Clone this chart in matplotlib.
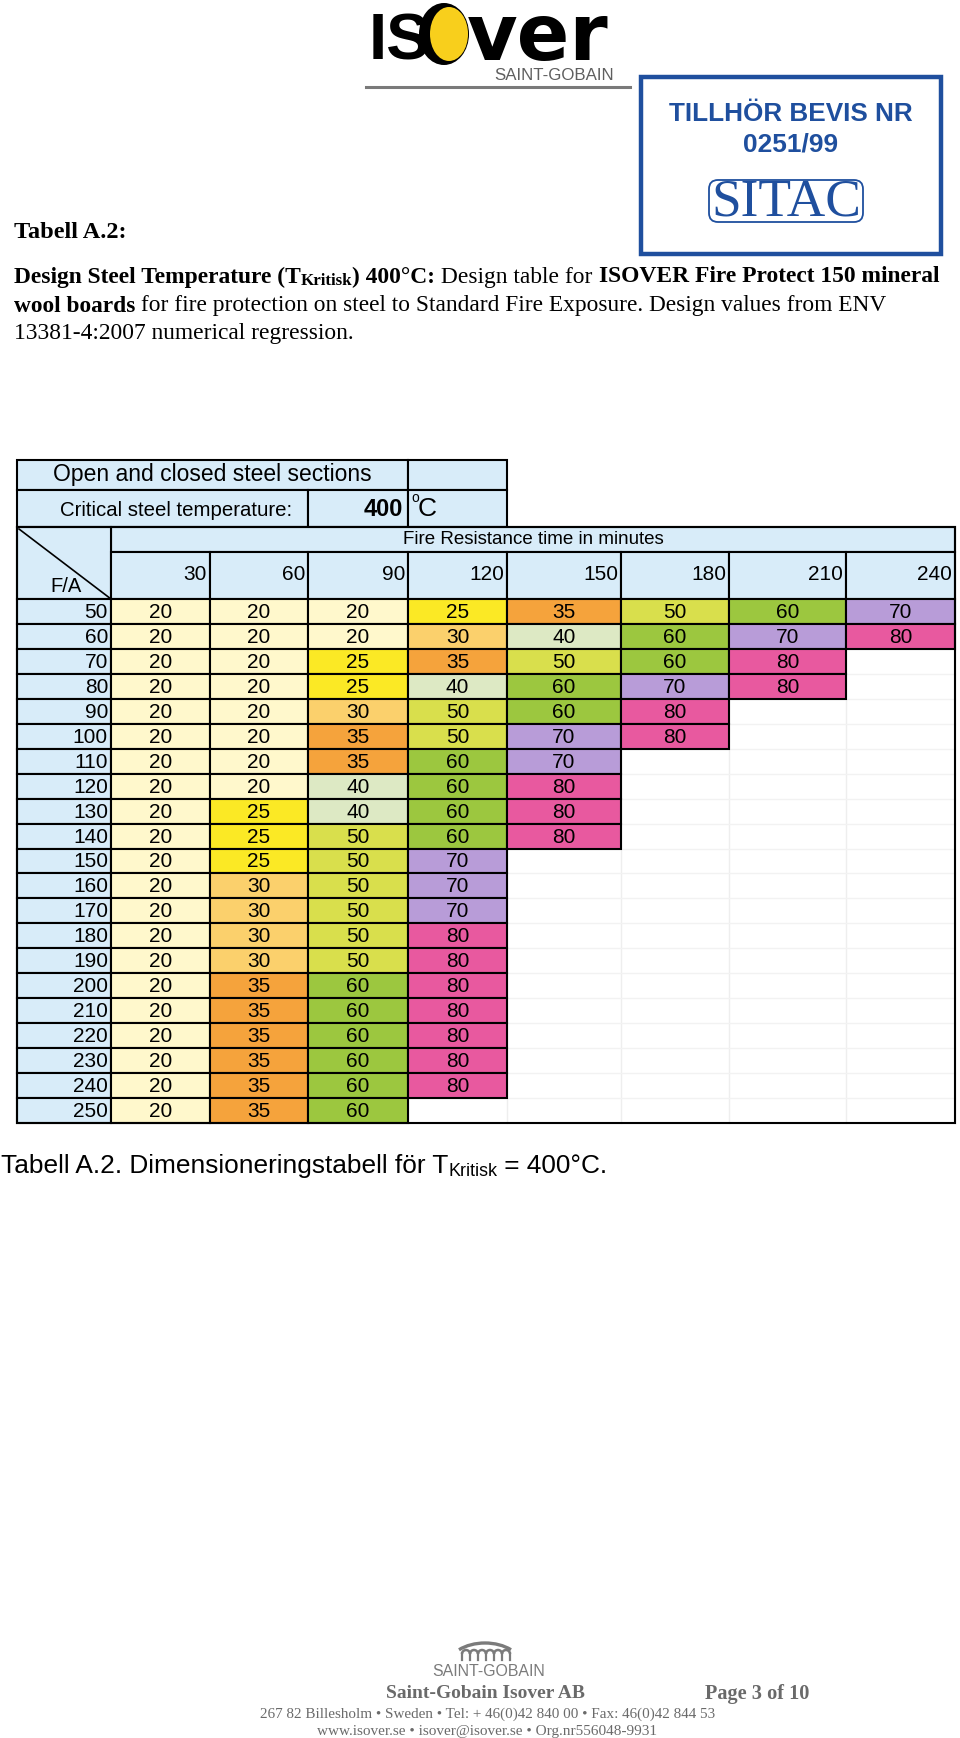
import numpy as np
import matplotlib
matplotlib.use("Agg")
import matplotlib.pyplot as plt
from matplotlib.patches import Rectangle, Ellipse, FancyBboxPatch, Arc

# ---------------------------------------------------------------------------
# Table data (Tabell A.2, T_kritisk = 400 C)
# ---------------------------------------------------------------------------
fa_values = [50, 60, 70, 80, 90, 100, 110, 120, 130, 140, 150, 160, 170,
             180, 190, 200, 210, 220, 230, 240, 250]
minutes = [30, 60, 90, 120, 150, 180, 210, 240]

thickness = [
    [20, 20, 20, 25, 35, 50, 60, 70],
    [20, 20, 20, 30, 40, 60, 70, 80],
    [20, 20, 25, 35, 50, 60, 80],
    [20, 20, 25, 40, 60, 70, 80],
    [20, 20, 30, 50, 60, 80],
    [20, 20, 35, 50, 70, 80],
    [20, 20, 35, 60, 70],
    [20, 20, 40, 60, 80],
    [20, 25, 40, 60, 80],
    [20, 25, 50, 60, 80],
    [20, 25, 50, 70],
    [20, 30, 50, 70],
    [20, 30, 50, 70],
    [20, 30, 50, 80],
    [20, 30, 50, 80],
    [20, 35, 60, 80],
    [20, 35, 60, 80],
    [20, 35, 60, 80],
    [20, 35, 60, 80],
    [20, 35, 60, 80],
    [20, 35, 60],
]

value_colors = {
    20: '#fff8cc', 25: '#fbe925', 30: '#fbd06c', 35: '#f5a33c',
    40: '#dde9c4', 50: '#d9df4c', 60: '#9cc73f', 70: '#b89cd8',
    80: '#e8599f',
}

critical_temp = 400

# ---------------------------------------------------------------------------
# Page layout (pixels)
# ---------------------------------------------------------------------------
W, H = 960, 1738
col_edges = [17, 111, 210, 308, 408, 507, 621, 729, 846, 955]
y_title, y_crit, y_fire, y_head, y_data = 460, 490, 527, 552, 599
row_h = 24.95
header_blue = '#d8ecf9'
blue = '#1f4f9e'

fig = plt.figure(figsize=(W / 100, H / 100), dpi=100)
ax = fig.add_axes([0, 0, 1, 1])
ax.set_xlim(0, W)
ax.set_ylim(H, 0)
ax.axis('off')
renderer = fig.canvas.get_renderer()


def runs(x, y, parts, size, family, color='black', fit=None, ha='left',
         va='center'):
    """Draw text runs one after another; parts = (text, weight, scale, dy)."""
    texts = []
    for p in parts:
        txt, weight = p[0], p[1]
        scale = p[2] if len(p) > 2 else 1.0
        t = ax.text(x, y, txt, fontsize=size * scale, fontweight=weight,
                    family=family, color=color, ha='left', va=va)
        texts.append((t, scale))
    widths = [t.get_window_extent(renderer).width for t, _ in texts]
    if fit:
        f = fit / sum(widths)
        for (t, s) in texts:
            t.set_fontsize(size * s * f)
        widths = [t.get_window_extent(renderer).width for t, _ in texts]
    total = sum(widths)
    cx = x - total / 2 if ha == 'center' else (x - total if ha == 'right' else x)
    for (t, s), p, w in zip(texts, parts, widths):
        dy = p[3] if len(p) > 3 else 0
        t.set_position((cx, y + dy))
        cx += w
    return texts


# ---------------------------------------------------------------------------
# ISOVER logo
# ---------------------------------------------------------------------------
ax.text(369, 59, 'IS', fontsize=47, fontweight='heavy', family='Liberation Sans',
        ha='left', va='baseline')
ax.add_patch(Ellipse((444, 34), 50, 62, facecolor='black', edgecolor='none'))
ax.add_patch(Ellipse((449, 34), 38, 54, facecolor='#f8cf1c', edgecolor='none'))
ax.text(467, 60, 'ver', fontsize=56, fontweight='bold', family='DejaVu Sans',
        ha='left', va='baseline')
runs(614, 76, [('SAINT-GOBAIN', 'normal')], 16, 'Liberation Sans',
     color='#5f5f5f', fit=120, ha='right')
ax.plot([366, 630], [87, 87], color='#7a7a7a', lw=2.2)

# SITAC certificate box
ax.add_patch(Rectangle((641, 77), 300, 177, facecolor='white', edgecolor=blue,
                       lw=3.2))
runs(791, 114, [('TILLHÖR BEVIS NR', 'bold')], 19, 'Liberation Sans',
     color=blue, fit=244, ha='center')
runs(791, 145, [('0251/99', 'bold')], 19, 'Liberation Sans', color=blue,
     fit=95, ha='center')
ax.add_patch(FancyBboxPatch((709, 180), 154, 42, boxstyle='round,pad=0,rounding_size=9',
                            facecolor='white', edgecolor=blue, lw=1.3))
runs(786, 202, [('SITAC', 'normal')], 36, 'Liberation Serif', color=blue,
     fit=150, ha='center')

# ---------------------------------------------------------------------------
# Heading text
# ---------------------------------------------------------------------------
serif = 'Liberation Serif'
runs(14, 233, [('Tabell A.2:', 'bold')], 15, serif, fit=113)
runs(14, 277, [('Design Steel Temperature (T', 'bold'),
               ('Kritisk', 'bold', 0.72, 4),
               (') 400°C:', 'bold'),
               (' Design table for ', 'normal'),
               ('ISOVER Fire Protect 150 mineral', 'bold')],
     15, serif, fit=928)
runs(14, 306, [('wool boards', 'bold'),
               (' for fire protection on steel to Standard Fire Exposure. '
                'Design values from ENV', 'normal')], 15, serif, fit=876)
runs(14, 334, [('13381-4:2007 numerical regression.', 'normal')], 15, serif,
     fit=342)

# ---------------------------------------------------------------------------
# Table
# ---------------------------------------------------------------------------
sans = ['Liberation Sans Narrow', 'Liberation Sans']
lw_grid = 1.5
x0, x_fa, x_end = col_edges[0], col_edges[1], col_edges[-1]

# title block
for (xa, xb, ya, yb) in [(x0, 408, y_title, y_crit), (408, 507, y_title, y_crit),
                         (x0, 308, y_crit, y_fire), (308, 408, y_crit, y_fire),
                         (408, 507, y_crit, y_fire)]:
    ax.add_patch(Rectangle((xa, ya), xb - xa, yb - ya, facecolor=header_blue,
                           edgecolor='black', lw=lw_grid))
ax.text(212, 475, 'Open and closed steel sections', fontsize=16.5, family=sans,
        ha='center', va='center')
ax.text(60, 511, 'Critical steel temperature:', fontsize=14.7, family=sans,
        ha='left', va='center')
ax.text(403, 510, str(critical_temp), fontsize=17, family=sans,
        fontweight='bold', ha='right', va='center')
ax.text(411, 498, 'o', fontsize=10, family=sans, ha='left', va='center')
ax.text(418, 509, 'C', fontsize=19, family=sans, ha='left', va='center')

# fire resistance header
ax.add_patch(Rectangle((x_fa, y_fire), x_end - x_fa, y_head - y_fire,
                       facecolor=header_blue, edgecolor='black', lw=lw_grid))
ax.text((x_fa + x_end) / 2, 539, 'Fire Resistance time in minutes',
        fontsize=13.5, family=sans, ha='center', va='center')

# F/A corner
ax.add_patch(Rectangle((x0, y_fire), x_fa - x0, y_data - y_fire,
                       facecolor=header_blue, edgecolor='black', lw=lw_grid))
ax.plot([x0 + 2, x_fa], [y_fire + 2, y_data], color='black', lw=1.2)
ax.text(50, 586, 'F/A', fontsize=14.5, family=sans, ha='left', va='center')

# minute headers
for j, m in enumerate(minutes):
    xa, xb = col_edges[j + 1], col_edges[j + 2]
    ax.add_patch(Rectangle((xa, y_head), xb - xa, y_data - y_head,
                           facecolor=header_blue, edgecolor='black', lw=lw_grid))
    ax.text(xb - 3, 575, str(m), fontsize=15, family=sans, ha='right',
            va='center')

# faint grid in the empty part
y_bottom = y_data + row_h * len(fa_values)
for j in range(len(minutes)):
    xb = col_edges[j + 2]
    ax.plot([xb, xb], [y_data, y_bottom], color='#eeeeee', lw=1.0, zorder=0)
for i in range(len(fa_values)):
    yb = y_data + row_h * (i + 1)
    ax.plot([x_fa, x_end], [yb, yb], color='#f2f2f2', lw=1.0, zorder=0)

# data rows
for i, (fa, row) in enumerate(zip(fa_values, thickness)):
    ya = y_data + row_h * i
    ax.add_patch(Rectangle((x0, ya), x_fa - x0, row_h, facecolor=header_blue,
                           edgecolor='black', lw=lw_grid))
    ax.text(x_fa - 3, ya + row_h / 2 + 1, str(fa), fontsize=15, family=sans,
            ha='right', va='center')
    for j, v in enumerate(row):
        xa, xb = col_edges[j + 1], col_edges[j + 2]
        ax.add_patch(Rectangle((xa, ya), xb - xa, row_h,
                               facecolor=value_colors[v], edgecolor='black',
                               lw=lw_grid))
        ax.text((xa + xb) / 2, ya + row_h / 2 + 1, str(v), fontsize=15,
                family=sans, ha='center', va='center')

# outer frame of the lower table
ax.add_patch(Rectangle((x0, y_fire), x_end - x0, y_bottom - y_fire,
                       facecolor='none', edgecolor='black', lw=lw_grid,
                       zorder=5))

# caption
runs(1, 1166, [('Tabell A.2. Dimensioneringstabell för T', 'normal'),
               ('Kritisk', 'normal', 0.68, 5),
               (' = 400°C.', 'normal')], 18, 'Liberation Sans', fit=608)

# ---------------------------------------------------------------------------
# Footer
# ---------------------------------------------------------------------------
grey = '#7b7b7b'
ax.add_patch(Arc((485, 1668), 76, 50, theta1=215, theta2=325, color=grey,
                 lw=2.4))
for k in range(6):
    ax.add_patch(Arc((466 + k * 8, 1654), 8, 8, theta1=180, theta2=360,
                     color=grey, lw=1.8))
    ax.plot([462 + k * 8, 462 + k * 8], [1653, 1660], color=grey, lw=1.6)
ax.plot([510, 510], [1653, 1660], color=grey, lw=1.6)
runs(489, 1672, [('SAINT-GOBAIN', 'normal')], 13, 'Liberation Sans',
     color=grey, fit=113, ha='center')
runs(386, 1694, [('Saint-Gobain Isover AB', 'bold')], 11, serif,
     color='#6a6a6a', fit=198)
runs(705, 1694, [('Page 3 of 10', 'bold')], 11, serif, color='#6a6a6a',
     fit=104)
runs(260, 1714, [('267 82 Billesholm • Sweden • Tel: + 46(0)42 840 00 • '
                  'Fax: 46(0)42 844 53', 'normal')], 9, serif,
     color='#6a6a6a', fit=453)
runs(317, 1731, [('www.isover.se • isover@isover.se • Org.nr556048-9931',
                  'normal')], 9, serif, color='#6a6a6a', fit=340)

fig.savefig('out.png', dpi=100, facecolor='white')
